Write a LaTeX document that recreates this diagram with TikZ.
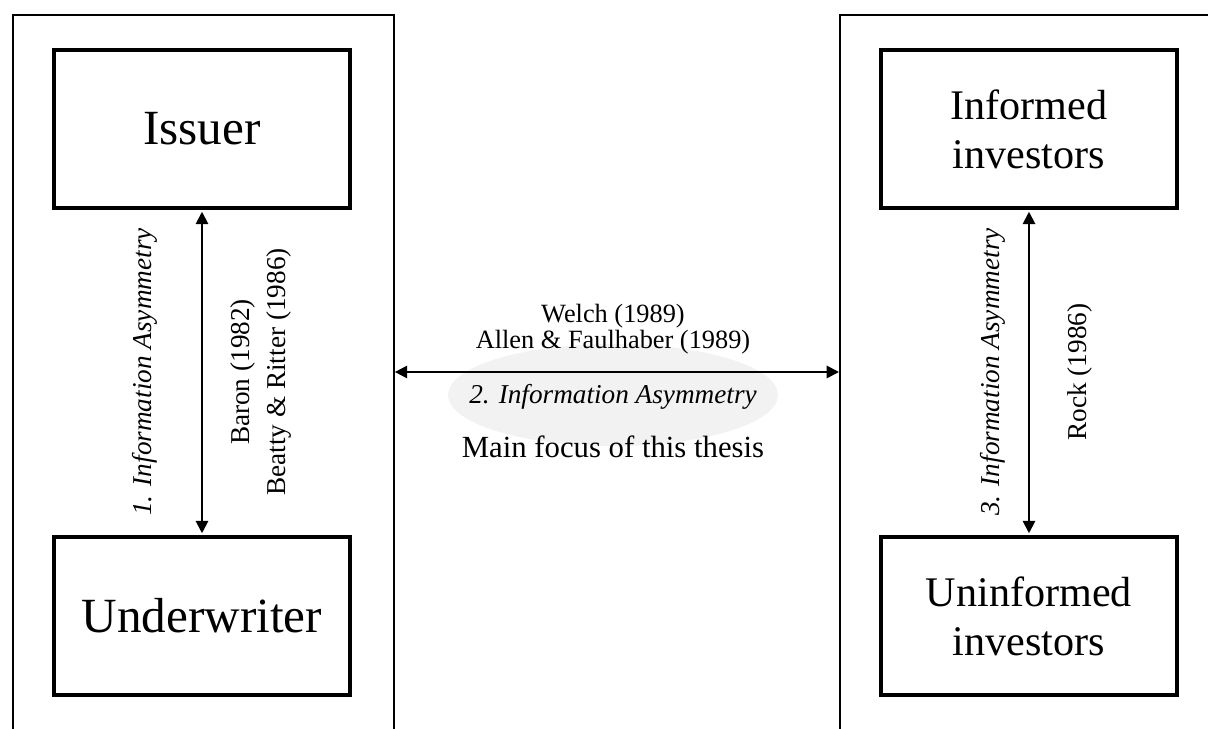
\documentclass[tikz,border=0pt]{standalone}
\usepackage{fontspec}
\setmainfont{Liberation Serif}
\usetikzlibrary{positioning,arrows.meta,shapes.geometric}

\tikzset{
  panel/.style={draw, line width=1.1pt, anchor=north west, inner sep=0pt, minimum height=16cm},
  party/.style={draw, line width=2.3pt, minimum width=5.92cm, minimum height=3.16cm, align=center, inner sep=0pt},
  biglabel/.style={font=\fontsize{28}{32}\selectfont},
  midlabel/.style={font=\fontsize{24}{28}\selectfont},
  citelabel/.style={font=\fontsize{15.5}{20}\selectfont, align=center},
  asymlabel/.style={font=\fontsize{15.5}{18}\selectfont\itshape},
  link/.style={line width=1.1pt, {Triangle[length=7pt,width=7pt]}-{Triangle[length=7pt,width=7pt]}},
}

\begin{document}
\begin{tikzpicture}[x=0.02cm, y=-0.02cm]
  \useasboundingbox (0,0) rectangle (1208,729);
  \clip (0,0) rectangle (1208,729);

  % Panels
  \node[panel, minimum width=7.62cm] (leftpanel) at (12,14) {};
  \node[panel, minimum width=8cm] (rightpanel) at (839,14) {};

  % Focus ellipse
  \node[ellipse, fill=black!5, minimum width=6.6cm, minimum height=2.04cm] (focus) at (613,395) {};

  % Parties
  \node[party, biglabel] (issuer) at (202,129) {Issuer};
  \node[party, biglabel] (underwriter) at (202,616) {Underwriter};
  \node[party, midlabel] (informed) at (1029,129) {Informed\\investors};
  \node[party, midlabel] (uninformed) at (1029,616) {Uninformed\\investors};

  % Links
  \draw[link, shorten <=1pt, shorten >=1pt] (issuer) -- (underwriter);
  \draw[link, shorten <=1pt, shorten >=1pt] (informed) -- (uninformed);
  \coordinate (midlink) at (613,372);
  \draw[link] (midlink -| leftpanel.east) -- (midlink -| rightpanel.west);

  % Labels
  \node[asymlabel, rotate=90] (asym1) at (145,372) {1. Information Asymmetry};
  \node[citelabel, rotate=90] (cite1) at (261,372) {Baron (1982)\\Beatty \& Ritter (1986)};
  \node[asymlabel] (asym2) at (613,397) {2. Information Asymmetry};
  \node[citelabel, font=\fontsize{15}{14.5}\selectfont] (cite2) at (613,329) {Welch (1989)\\Allen \& Faulhaber (1989)};
  \node[font=\fontsize{17.5}{20}\selectfont] (focustext) at (613,447) {Main focus of this thesis};
  \node[asymlabel, rotate=90] (asym3) at (993,372) {3. Information Asymmetry};
  \node[citelabel, rotate=90] (cite3) at (1080,372) {Rock (1986)};
\end{tikzpicture}
\end{document}
